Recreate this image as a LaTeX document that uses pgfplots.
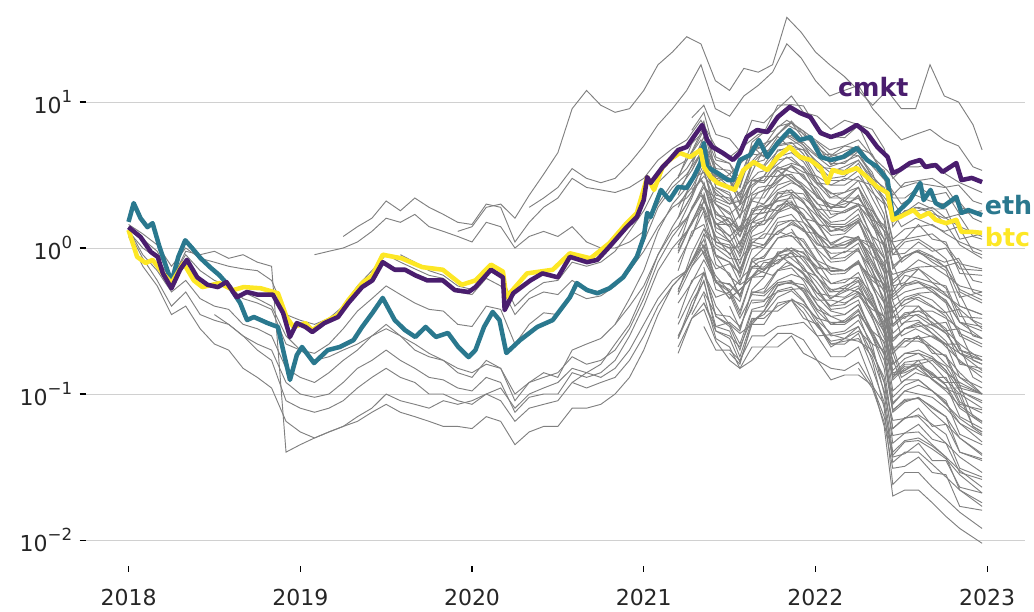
\documentclass[border=0pt]{standalone}
\usepackage{fontspec}
\setmainfont{DejaVu Sans}
\usepackage{pgfplots}
\usepackage{pgfplotstable}
\pgfplotsset{compat=1.18}
\definecolor{cmktc}{HTML}{4A1D6E}
\definecolor{ethc}{HTML}{2A788E}
\definecolor{btcc}{HTML}{FDE725}
\definecolor{gline}{HTML}{808080}
\definecolor{gridc}{HTML}{D0D0D0}
\newcommand\supx[1]{\raisebox{0.5em}{\fontsize{12.5}{13}\selectfont #1}}

\pgfplotstableread{
t e1 e2 e3 e4 e5 e6 e7 e8 e9 e10 e11 e12 e13 e14 e15
2018.000 1.3 1.35 1.4 1.3 1.45 1.2 nan nan nan nan nan nan nan nan nan
2018.083 1.0 0.9 1.15 0.85 1.25 0.75 nan nan nan nan nan nan nan nan nan
2018.167 0.85 0.7 0.95 0.6 1.05 0.55 nan nan nan nan nan nan nan nan nan
2018.250 0.6 0.5 0.62 0.4 0.75 0.35 nan nan nan nan nan nan nan nan nan
2018.333 0.95 0.6 0.9 0.5 1.0 0.4 nan nan nan nan nan nan nan nan nan
2018.417 0.9 0.45 0.7 0.35 0.85 0.28 nan nan nan nan nan nan nan nan nan
2018.500 0.95 0.4 0.6 0.32 0.8 0.22 nan nan nan nan nan nan nan nan 0.35
2018.583 0.85 0.38 0.55 0.3 0.75 0.2 nan nan nan nan nan nan nan nan 0.3
2018.667 0.9 0.3 0.45 0.25 0.72 0.15 nan nan nan nan 0.5 nan nan nan 0.25
2018.750 0.8 0.28 0.42 0.22 0.7 0.13 nan nan nan nan 0.45 nan nan nan 0.2
2018.833 0.75 0.25 0.38 0.2 0.6 0.11 nan nan nan nan 0.4 nan nan nan 0.17
2018.917 0.04 0.15 0.22 0.12 0.35 0.065 nan nan nan nan 0.25 nan nan nan 0.09
2019.000 0.045 0.13 0.2 0.1 0.32 0.055 nan nan nan nan 0.2 nan nan nan 0.08
2019.083 0.05 0.12 0.19 0.095 0.3 0.05 0.9 nan nan nan 0.17 nan nan nan 0.075
2019.167 0.055 0.14 0.22 0.1 0.33 0.055 0.95 nan nan nan 0.18 nan nan nan 0.08
2019.250 0.06 0.17 0.28 0.12 0.4 0.06 1.0 1.2 nan nan 0.2 nan nan nan 0.09
2019.333 0.07 0.2 0.37 0.15 0.55 0.065 1.1 1.4 nan nan 0.22 nan nan nan 0.11
2019.417 0.08 0.25 0.45 0.17 0.7 0.075 1.3 1.6 nan nan 0.25 nan nan nan 0.13
2019.500 0.1 0.28 0.55 0.2 0.9 0.085 1.6 2.1 nan nan 0.3 nan nan nan 0.15
2019.583 0.09 0.25 0.48 0.17 0.8 0.075 1.5 1.8 nan nan 0.25 nan nan 0.9 0.13
2019.667 0.085 0.2 0.42 0.15 0.72 0.07 1.7 2.2 nan nan 0.22 nan nan 0.8 0.12
2019.750 0.08 0.18 0.38 0.13 0.65 0.065 1.4 1.9 nan nan 0.19 nan nan 0.7 0.1
2019.833 0.09 0.17 0.37 0.125 0.62 0.06 1.3 1.7 nan nan 0.17 nan nan 0.65 0.1
2019.917 0.085 0.14 0.3 0.11 0.5 0.06 1.2 1.5 1.3 nan 0.15 nan nan 0.55 0.09
2020.000 0.09 0.13 0.29 0.105 0.48 0.058 1.1 1.45 1.4 nan 0.14 nan nan 0.52 0.085
2020.083 0.1 0.17 0.4 0.13 0.62 0.07 1.5 2.0 1.9 nan 0.16 nan nan 0.7 0.1
2020.167 0.11 0.15 0.38 0.12 0.55 0.065 1.4 1.9 2.0 nan 0.15 nan nan 0.65 0.09
2020.250 0.08 0.09 0.22 0.075 0.35 0.045 1.0 1.1 1.6 nan 0.1 nan nan 0.4 0.065
2020.333 0.1 0.12 0.3 0.095 0.45 0.055 1.2 1.5 2.3 1.9 0.12 nan nan 0.5 0.08
2020.417 0.11 0.14 0.36 0.1 0.5 0.06 1.3 1.9 3.2 2.2 0.13 nan nan 0.58 0.085
2020.500 0.12 0.13 0.35 0.1 0.48 0.06 1.2 2.2 4.5 2.6 0.14 nan nan 0.6 0.09
2020.583 0.15 0.2 0.5 0.14 0.6 0.08 1.4 3.0 9.0 3.5 0.18 0.12 nan 0.8 0.12
2020.667 0.14 0.22 0.45 0.13 0.52 0.08 1.1 2.6 12 3.0 0.16 0.14 nan 0.75 0.11
2020.750 0.13 0.24 0.47 0.14 0.5 0.085 1.0 2.5 9.5 2.8 0.17 0.16 nan 0.8 0.12
2020.833 0.15 0.3 0.55 0.17 0.55 0.1 1.0 2.4 8.5 3.0 0.2 0.22 0.3 0.95 0.13
2020.917 0.2 0.45 0.75 0.25 0.7 0.13 1.1 2.6 9.0 3.8 0.28 0.3 0.4 1.3 0.17
2021.000 0.3 0.7 1.1 0.4 0.95 0.2 1.3 3.0 12 5.0 0.45 0.5 0.55 1.8 0.25
2021.083 0.45 1.3 1.9 0.7 1.4 0.35 2.0 4.0 18 7.0 0.8 0.9 0.9 2.8 0.4
2021.167 0.6 2.0 2.6 1.0 1.9 0.55 2.8 4.8 22 9.0 1.2 1.4 1.3 3.5 0.55
2021.250 0.7 2.6 3.2 1.3 2.2 0.7 3.5 5.5 28 12 1.6 2.0 1.6 4.0 0.7
2021.333 1.0 3.8 4.5 2.0 2.9 1.1 5.0 7.5 25 18 2.4 3.0 2.3 5.5 1.0
2021.417 0.6 2.4 3.0 1.2 2.0 0.65 3.2 5.0 14 9 1.5 1.8 1.5 3.8 0.6
2021.500 0.45 2.0 2.5 0.9 1.7 0.5 2.6 4.2 12 8 1.2 1.4 1.1 3.2 0.45
2021.583 0.55 2.6 3.3 1.2 2.1 0.65 3.4 5.0 17 11 1.5 1.8 1.4 4.0 0.55
2021.667 0.7 3.3 4.2 1.5 2.6 0.8 4.4 6.0 16 13 1.9 2.4 1.7 5.0 0.7
2021.750 0.65 3.5 4.6 1.6 2.7 0.85 4.8 6.3 18 16 2.0 2.6 1.8 5.5 0.75
2021.833 0.8 4.2 5.8 2.0 3.2 1.0 6.0 7.5 38 25 2.5 3.2 2.1 7.0 0.9
2021.917 0.7 3.6 5.0 1.7 2.8 0.85 5.2 6.5 30 20 2.1 2.7 1.7 6.2 0.75
2022.000 0.55 2.8 4.0 1.3 2.3 0.65 4.3 5.5 22 14 1.7 2.1 1.3 5.0 0.6
2022.083 0.4 2.2 3.3 1.0 1.9 0.5 3.6 4.7 18 11 1.3 1.6 1.0 4.2 0.45
2022.167 0.45 2.4 3.6 1.1 2.0 0.55 3.9 5.0 15 12 1.4 1.8 1.05 4.6 0.5
2022.250 0.5 2.6 4.0 1.2 2.2 0.6 4.3 5.5 12 13 1.5 2.0 1.15 5.0 0.55
2022.333 0.35 1.8 2.8 0.8 1.6 0.4 3.1 4.2 9.5 9 1.0 1.4 0.75 3.6 0.35
2022.417 0.22 1.3 2.1 0.55 1.25 0.28 2.4 3.4 12 7 0.7 1.0 0.5 2.8 0.25
2022.500 0.12 0.8 1.4 0.3 0.85 0.14 1.7 2.6 9 5.5 0.4 0.55 0.25 2.0 0.13
2022.583 0.14 0.95 1.6 0.35 0.95 0.16 1.9 2.8 9 6.0 0.45 0.6 0.28 2.3 0.15
2022.667 0.13 0.85 1.45 0.3 0.88 0.14 1.75 2.7 18 6.5 0.4 0.55 0.25 2.1 0.13
2022.750 0.11 0.75 1.3 0.27 0.8 0.12 1.6 2.6 11 5.5 0.36 0.5 0.22 2.0 0.11
2022.833 0.1 0.8 1.4 0.28 0.85 0.12 1.7 2.7 10 5.0 0.38 0.5 0.22 2.1 0.11
2022.917 0.06 0.5 0.95 0.17 0.6 0.07 1.2 2.1 7 3.6 0.25 0.32 0.13 1.6 0.06
2022.970 0.055 0.47 0.9 0.16 0.58 0.065 1.15 2.0 4.7 3.4 0.24 0.3 0.12 1.5 0.055
}\early

\pgfplotstableread{
t h1 h2 h3 h4 h5 h6 h7 h8 h9 h10 m1 m2 m3 m4 m5 m6 m7 m8 m9 m10 m11 m12 m13 m14 l1 l2 l3 l4 l5 l6 l7 l8 l9 l10 l11 l12
2021.20 nan 3.0 nan 2.0 nan 0.95 nan 0.48 nan 0.21 nan 3.1 nan 1.9 nan 1.2 nan 0.8 nan 0.52 nan 0.3 nan 0.24 nan 2.3 nan 1.4 nan 0.92 nan nan nan nan nan 0.24
2021.28 7.8 5.2 3.4 2.6 nan 1.5 nan 0.75 nan 0.33 6.4 4.6 3.9 2.8 nan 1.85 nan 1.22 nan 0.8 nan 0.47 nan 0.43 5.2 3.7 nan 2.2 nan 1.5 nan 0.8 nan nan nan 0.39
2021.35 9.5 6.3 4.8 3.7 2.6 1.9 1.35 0.95 nan 0.42 8.5 6.8 5.3 4.2 3.4 2.75 2.2 1.8 nan 1.15 nan 0.68 nan 0.59 7.4 5.8 nan 3.5 2.85 2.3 1.7 1.25 nan 0.74 nan 0.6
2021.42 6.0 4.0 3.0 2.3 1.7 1.2 0.88 0.6 nan 0.27 4.2 3.4 2.6 2.1 1.7 1.38 1.1 0.9 nan 0.58 nan 0.34 nan 0.29 3.3 2.6 2.0 1.6 1.3 1.05 0.77 0.58 nan 0.34 nan 0.27
2021.50 5.6 3.8 2.9 2.2 1.6 1.1 0.8 0.56 nan 0.25 3.8 3.0 2.4 1.9 1.5 1.22 1.0 0.8 0.66 0.52 nan 0.3 nan 0.27 2.9 2.3 1.75 1.4 1.12 0.92 0.67 0.5 0.4 0.29 nan 0.24
2021.56 4.6 3.0 2.3 1.8 1.3 0.92 0.68 0.47 nan 0.21 2.6 2.2 1.65 1.3 1.05 0.87 0.7 0.57 0.47 0.37 nan 0.22 nan 0.18 2.0 1.6 1.2 0.95 0.78 0.63 0.46 0.35 0.28 0.2 nan 0.165
2021.63 7.5 5.0 3.8 2.9 2.1 1.5 1.1 0.75 0.5 0.33 4.6 3.8 2.9 2.3 1.85 1.5 1.2 0.98 0.8 0.63 0.49 0.38 nan 0.32 3.7 2.9 2.2 1.7 1.4 1.15 0.84 0.63 0.5 0.37 0.42 0.3
2021.70 7.2 4.8 3.6 2.8 2.0 1.45 1.05 0.74 0.49 0.33 5.0 4.0 3.1 2.5 2.0 1.62 1.3 1.05 0.88 0.7 0.53 0.4 nan 0.35 3.7 2.9 2.2 1.75 1.45 1.17 0.85 0.64 0.5 0.37 0.43 0.3
2021.78 9.0 6.0 4.6 3.5 2.5 1.8 1.3 0.9 0.6 0.4 6.8 5.5 4.2 3.4 2.7 2.2 1.75 1.42 1.17 0.92 0.71 0.55 nan 0.46 5.1 4.0 3.1 2.4 1.95 1.6 1.17 0.88 0.7 0.51 0.58 0.42
2021.86 11 7.2 5.0 3.8 2.8 2.0 1.45 1.0 0.66 0.44 7.2 5.9 4.5 3.6 2.9 2.35 1.9 1.55 1.28 1.0 0.77 0.59 0.45 0.51 5.3 4.2 3.2 2.5 2.05 1.7 1.22 0.92 0.73 0.54 0.6 0.44
2021.93 8.5 5.6 4.7 3.6 2.6 1.85 1.35 0.92 0.62 0.41 6.3 5.1 3.9 3.1 2.5 2.05 1.65 1.33 1.1 0.86 0.67 0.51 0.39 0.43 4.4 3.5 2.6 2.1 1.7 1.38 1.0 0.75 0.6 0.44 0.5 0.36
2022.01 8.0 5.3 3.6 2.8 2.0 1.45 1.05 0.74 0.49 0.33 4.5 3.7 2.8 2.3 1.85 1.5 1.2 0.98 0.8 0.63 0.49 0.37 0.29 0.32 3.0 2.4 1.8 1.45 1.15 0.95 0.7 0.52 0.41 0.3 0.35 0.25
2022.09 6.5 4.3 3.5 2.7 1.9 1.4 1.0 0.7 0.47 0.31 3.8 3.0 2.35 1.9 1.5 1.22 1.0 0.8 0.66 0.52 0.4 0.3 0.23 0.26 2.2 1.7 1.3 1.05 0.84 0.69 0.5 0.38 0.3 0.22 0.25 0.18
2022.17 7.5 5.0 3.4 2.7 2.1 1.4 1.0 0.7 0.46 0.31 3.8 3.1 2.4 1.9 1.55 1.25 1.0 0.82 0.67 0.53 0.41 0.32 0.24 0.27 2.2 1.75 1.35 1.05 0.86 0.7 0.51 0.39 0.3 0.22 0.26 0.18
2022.25 7.0 4.8 4.0 3.1 2.0 1.6 1.15 0.8 0.53 0.35 4.6 3.8 2.9 2.3 1.85 1.5 1.2 0.98 0.8 0.63 0.49 0.38 0.29 0.32 2.6 2.0 1.55 1.2 1.0 0.8 0.59 0.44 0.35 0.26 0.29 0.21
2022.33 6.5 4.4 3.0 2.4 1.8 1.2 0.88 0.6 0.4 0.27 3.0 2.5 1.9 1.5 1.2 1.0 0.8 0.65 0.54 0.42 0.33 0.25 0.19 0.22 1.5 1.15 0.88 0.7 0.57 0.46 0.34 0.25 0.2 0.15 0.17 0.12
2022.40 4.8 3.1 2.6 2.0 1.3 1.05 0.75 0.52 0.34 0.23 2.1 1.7 1.3 1.05 0.85 0.68 0.55 0.45 0.37 0.29 0.22 0.17 0.13 0.1 0.88 0.7 0.52 0.42 0.33 0.27 0.2 0.15 0.12 0.088 0.08 0.06
2022.45 3.0 2.2 1.5 1.15 0.9 0.6 0.44 0.3 0.2 0.13 0.9 0.75 0.57 0.46 0.36 0.3 0.24 0.19 0.16 0.125 0.095 0.075 0.058 0.04 0.33 0.26 0.2 0.16 0.13 0.105 0.077 0.058 0.046 0.034 0.024 0.02
2022.52 3.6 2.2 1.8 1.35 0.92 0.7 0.5 0.35 0.24 0.16 1.1 0.88 0.68 0.55 0.44 0.36 0.28 0.23 0.19 0.15 0.115 0.088 0.068 0.048 0.4 0.31 0.24 0.19 0.155 0.125 0.092 0.069 0.054 0.04 0.029 0.022
2022.60 3.6 2.6 1.8 1.4 1.1 0.74 0.53 0.37 0.24 0.16 1.15 0.95 0.72 0.58 0.46 0.37 0.3 0.25 0.2 0.16 0.125 0.095 0.072 0.05 0.4 0.32 0.24 0.19 0.155 0.125 0.093 0.07 0.055 0.04 0.029 0.022
2022.68 3.8 2.3 1.9 1.45 0.95 0.75 0.54 0.37 0.25 0.17 1.0 0.8 0.62 0.5 0.4 0.33 0.26 0.21 0.18 0.14 0.105 0.08 0.062 0.044 0.33 0.26 0.2 0.16 0.125 0.105 0.075 0.056 0.045 0.033 0.023 0.018
2022.76 3.2 2.4 1.6 1.25 1.0 0.65 0.47 0.33 0.22 0.14 0.84 0.7 0.53 0.42 0.34 0.28 0.22 0.18 0.145 0.115 0.09 0.07 0.053 0.037 0.27 0.21 0.16 0.125 0.105 0.085 0.062 0.046 0.037 0.027 0.019 0.0145
2022.84 2.8 1.7 1.4 1.1 0.72 0.55 0.4 0.28 0.19 0.12 0.5 0.4 0.31 0.25 0.2 0.16 0.13 0.105 0.088 0.07 0.053 0.04 0.031 0.022 0.22 0.17 0.13 0.1 0.083 0.068 0.05 0.037 0.03 0.022 0.0155 0.012
2022.97 2.4 1.8 1.2 0.95 0.7 0.5 0.35 0.24 0.16 0.1 0.42 0.35 0.27 0.21 0.17 0.15 0.11 0.09 0.074 0.058 0.045 0.035 0.027 0.018 0.17 0.13 0.1 0.08 0.065 0.053 0.038 0.029 0.023 0.017 0.012 0.0095
}\mass

\pgfplotstableread{
t p1 p2 p3 p4 p5 p6 p7 p8 q1 q2 q3 q4 q5 q6 q7 q8 r1 r2 r3 r4 r5 r6 r7 s1 s2 s3 s4 s5 s6 s7
2021.20 nan 1.6 nan 0.7 nan 0.33 nan 0.19 1.6 1.0 nan 0.5 nan 0.25 nan nan nan nan nan nan nan nan nan 2.5 nan 1.05 nan 0.42 nan nan
2021.28 4.5 3.0 nan 1.3 0.75 0.6 nan 0.33 2.3 1.9 1.2 0.92 nan 0.38 nan nan nan nan nan nan nan nan nan 3.4 2.5 1.45 nan 0.58 0.35 nan
2021.35 6.4 3.3 2.4 1.45 1.05 0.68 0.48 0.38 4.3 2.6 2.1 1.35 1.05 0.67 0.42 nan nan nan nan nan nan nan nan 5.0 3.1 2.1 1.25 0.83 0.5 0.29
2021.42 3.1 2.0 1.1 0.88 0.52 0.4 0.24 0.23 2.8 2.2 1.45 1.1 0.72 0.46 0.29 nan nan nan nan nan nan nan nan 3.5 2.5 1.45 1.0 0.58 0.35 0.2
2021.50 2.9 1.5 1.05 0.64 0.48 0.3 0.21 0.17 3.2 2.0 1.6 1.0 0.78 0.5 0.31 0.19 nan nan nan nan nan nan nan 3.4 2.1 1.45 0.85 0.57 0.34 0.2
2021.56 2.0 1.3 0.72 0.56 0.33 0.26 0.15 0.15 2.6 2.1 1.35 1.02 0.67 0.43 0.27 0.16 nan nan nan nan nan nan nan 2.9 2.1 1.2 0.83 0.48 0.29 0.17
2021.63 2.9 1.5 1.05 0.64 0.48 0.3 0.21 0.17 5.3 3.3 2.6 1.7 1.3 0.84 0.52 0.31 5.0 nan nan nan 0.82 nan nan 4.4 2.7 1.8 1.08 0.73 0.44 0.25
2021.70 2.8 1.9 1.0 0.8 0.47 0.37 0.21 0.21 6.2 4.8 3.1 2.4 1.55 1.0 0.63 0.37 4.2 nan 1.9 nan 0.7 nan nan 4.3 3.1 1.85 1.25 0.72 0.44 0.25
2021.78 3.6 1.8 1.3 0.78 0.58 0.37 0.26 0.21 9.5 6.0 4.7 3.0 2.35 1.5 0.94 0.56 5.8 3.4 2.1 nan 0.9 nan nan 5.0 3.1 2.1 1.24 0.83 0.5 0.29
2021.86 3.3 2.3 1.2 0.95 0.57 0.44 0.26 0.25 9.6 7.4 4.8 3.7 2.4 1.55 0.96 0.58 4.8 2.9 2.1 1.35 0.78 nan nan 5.2 3.7 2.2 1.5 0.87 0.52 0.3
2021.93 3.2 1.6 1.15 0.7 0.53 0.33 0.235 0.19 9.4 6.0 4.7 3.0 2.35 1.5 0.94 0.56 4.2 2.5 1.5 1.0 0.66 nan nan 5.3 3.3 2.2 1.3 0.88 0.53 0.31
2022.01 2.2 1.5 0.82 0.64 0.38 0.3 0.17 0.17 6.6 5.1 3.4 2.55 1.7 1.08 0.68 0.41 2.8 1.7 1.25 0.8 0.46 0.31 nan 4.3 3.1 1.85 1.25 0.72 0.44 0.25
2022.09 2.0 1.05 0.74 0.45 0.34 0.21 0.15 0.125 5.8 3.7 2.9 1.85 1.45 0.92 0.57 0.34 2.4 1.4 0.85 0.57 0.37 0.22 nan 4.4 2.7 1.8 1.08 0.73 0.44 0.255
2022.17 1.9 1.2 0.7 0.53 0.31 0.24 0.145 0.135 5.7 4.4 2.9 2.2 1.45 0.93 0.58 0.35 2.1 1.3 0.95 0.61 0.35 0.23 nan 4.1 3.0 1.75 1.2 0.7 0.42 0.24
2022.25 2.3 1.15 0.82 0.5 0.37 0.23 0.165 0.135 6.9 4.3 3.4 2.2 1.7 1.08 0.68 0.41 2.6 1.55 0.95 0.63 0.41 0.24 0.15 4.7 2.9 1.95 1.15 0.78 0.47 0.27
2022.33 1.5 1.0 0.56 0.42 0.25 0.2 0.115 0.115 4.3 3.3 2.2 1.65 1.05 0.7 0.44 0.26 1.7 1.0 0.72 0.48 0.27 0.18 0.11 3.8 2.7 1.55 1.08 0.63 0.38 0.22
2022.40 1.15 0.6 0.42 0.26 0.19 0.12 0.085 0.07 3.1 2.0 1.55 1.0 0.78 0.5 0.31 0.19 1.15 0.68 0.42 0.28 0.185 0.105 0.064 3.4 2.1 1.45 0.85 0.57 0.34 0.2
2022.45 0.5 0.34 0.19 0.14 0.085 0.066 0.038 0.037 1.4 1.1 0.72 0.55 0.36 0.23 0.145 0.087 0.48 0.29 0.21 0.135 0.078 0.052 0.031 2.3 1.65 0.97 0.66 0.39 0.23 0.135
2022.52 0.65 0.33 0.23 0.145 0.105 0.068 0.047 0.039 1.8 1.15 0.88 0.58 0.44 0.28 0.175 0.105 0.57 0.34 0.21 0.14 0.09 0.054 0.032 2.8 1.75 1.15 0.7 0.46 0.28 0.165
2022.60 0.62 0.4 0.23 0.17 0.1 0.08 0.048 0.046 1.9 1.45 0.97 0.72 0.48 0.31 0.19 0.115 0.58 0.35 0.25 0.155 0.094 0.062 0.037 2.9 2.05 1.2 0.83 0.49 0.29 0.17
2022.68 0.58 0.3 0.21 0.13 0.095 0.06 0.042 0.035 1.8 1.15 0.88 0.58 0.44 0.28 0.175 0.105 0.52 0.31 0.19 0.135 0.082 0.049 0.029 3.0 1.85 1.25 0.75 0.5 0.3 0.175
2022.76 0.48 0.31 0.18 0.13 0.08 0.062 0.036 0.035 1.45 1.1 0.73 0.55 0.36 0.23 0.145 0.087 0.43 0.26 0.185 0.115 0.07 0.046 0.028 2.6 1.85 1.05 0.75 0.44 0.26 0.155
2022.84 0.38 0.2 0.14 0.085 0.063 0.04 0.028 0.023 1.05 0.67 0.52 0.34 0.26 0.165 0.105 0.063 0.31 0.19 0.115 0.08 0.05 0.029 0.017 1.9 1.15 0.78 0.46 0.31 0.19 0.11
2022.97 0.28 0.18 0.1 0.078 0.047 0.036 0.021 0.021 0.85 0.65 0.44 0.33 0.22 0.14 0.087 0.052 0.24 0.145 0.1 0.063 0.039 0.026 0.016 1.7 1.25 0.72 0.5 0.29 0.17 0.1
}\massb

\begin{document}
\begin{tikzpicture}
\path[use as bounding box] (0,0) rectangle (775.5pt,458.25pt);
\begin{axis}[
  at={(64.2pt,33.75pt)}, anchor=south west,
  scale only axis, width=704.55pt, height=424.5pt,
  xmin=2017.75, xmax=2023.22,
  ymode=log, ymin=0.00664, ymax=49.96,
  axis line style={draw=none},
  xtick={2018,2019,2020,2021,2022,2023},
  xticklabels={2018,2019,2020,2021,2022,2023},
  ytick={0.01,0.1,1,10},
  yticklabels={10\supx{−2},10\supx{−1},10\supx{0},10\supx{1}},
  yminorticks=false,
  tick align=outside, tick pos=left,
  major tick length=4.5pt,
  tick style={black, line width=0.8pt},
  ymajorgrids, grid style={draw=gridc, line width=0.7pt},
  ticklabel style={font=\fontsize{16.5}{18}\selectfont, text=black!85},
  xticklabel style={yshift=-9pt},
  yticklabel style={xshift=-2pt},
  clip mode=individual,
]
\pgfplotsinvokeforeach{e1,e2,e3,e4,e5,e6,e7,e8,e9,e10,e11,e12,e13,e14,e15}{
  \addplot[gline, line width=0.7pt, forget plot] table[x=t,y=#1]{\early};
}
\pgfplotsinvokeforeach{h1,h2,h3,h4,h5,h6,h7,h8,h9,h10,m1,m2,m3,m4,m5,m6,m7,m8,m9,m10,m11,m12,m13,m14,l1,l2,l3,l4,l5,l6,l7,l8,l9,l10,l11,l12}{
  \addplot[gline, line width=0.7pt, forget plot] table[x=t,y=#1]{\mass};
}
\pgfplotsinvokeforeach{p1,p2,p3,p4,p5,p6,p7,p8,q1,q2,q3,q4,q5,q6,q7,q8,r1,r2,r3,r4,r5,r6,r7,s1,s2,s3,s4,s5,s6,s7}{
  \addplot[gline, line width=0.7pt, forget plot] table[x=t,y=#1]{\massb};
}
% eth
\addplot[ethc, line width=3.4pt, line join=round] coordinates {
(2018.00,1.51) (2018.03,2.03) (2018.07,1.60) (2018.11,1.39) (2018.14,1.48) (2018.18,1.02) (2018.22,0.74) (2018.25,0.585) (2018.29,0.87) (2018.33,1.13) (2018.37,1.00) (2018.42,0.85) (2018.48,0.73) (2018.53,0.65) (2018.59,0.54) (2018.65,0.42) (2018.69,0.321) (2018.73,0.337) (2018.81,0.306) (2018.87,0.288) (2018.90,0.20) (2018.94,0.125) (2018.98,0.185) (2019.01,0.21) (2019.08,0.163) (2019.16,0.20) (2019.23,0.21) (2019.31,0.234) (2019.36,0.288) (2019.42,0.359) (2019.48,0.455) (2019.55,0.321) (2019.61,0.274) (2019.67,0.246) (2019.73,0.288) (2019.79,0.246) (2019.86,0.262) (2019.92,0.21) (2019.98,0.179) (2020.02,0.20) (2020.07,0.288) (2020.12,0.365) (2020.16,0.321) (2020.20,0.191) (2020.28,0.234) (2020.38,0.288) (2020.47,0.321) (2020.57,0.46) (2020.61,0.575) (2020.67,0.515) (2020.73,0.49) (2020.80,0.53) (2020.88,0.63) (2020.96,0.87) (2021.00,1.19) (2021.02,1.74) (2021.04,1.63) (2021.10,2.50) (2021.15,2.13) (2021.20,2.62) (2021.25,2.58) (2021.29,3.06) (2021.33,3.82) (2021.35,5.24) (2021.37,3.59) (2021.43,3.26) (2021.49,2.92) (2021.52,2.92) (2021.56,4.01) (2021.62,4.34) (2021.67,5.49) (2021.72,4.20) (2021.78,5.24) (2021.85,6.43) (2021.91,5.49) (2021.97,5.76) (2022.03,4.20) (2022.09,4.01) (2022.16,4.20) (2022.24,4.84) (2022.30,4.01) (2022.36,3.59) (2022.42,2.92) (2022.45,1.63) (2022.49,1.82) (2022.55,2.13) (2022.61,2.79) (2022.63,2.13) (2022.67,2.50) (2022.70,2.03) (2022.74,1.91) (2022.82,2.24) (2022.85,1.74) (2022.89,1.82) (2022.97,1.68)
};
% btc
\addplot[btcc, line width=3.4pt, line join=round] coordinates {
(2018.00,1.33) (2018.05,0.87) (2018.10,0.79) (2018.14,0.83) (2018.20,0.67) (2018.25,0.575) (2018.32,0.79) (2018.38,0.60) (2018.43,0.54) (2018.53,0.575) (2018.61,0.515) (2018.67,0.54) (2018.77,0.53) (2018.87,0.49) (2018.92,0.337) (2018.96,0.288) (2019.03,0.306) (2019.07,0.274) (2019.14,0.311) (2019.22,0.348) (2019.28,0.44) (2019.36,0.575) (2019.42,0.65) (2019.48,0.90) (2019.59,0.85) (2019.71,0.74) (2019.83,0.71) (2019.94,0.56) (2020.02,0.60) (2020.11,0.77) (2020.18,0.69) (2020.20,0.46) (2020.32,0.67) (2020.47,0.71) (2020.57,0.92) (2020.69,0.85) (2020.80,1.08) (2020.90,1.48) (2020.96,1.74) (2021.02,3.06) (2021.06,2.50) (2021.11,3.59) (2021.15,4.01) (2021.21,4.48) (2021.27,4.20) (2021.33,4.69) (2021.35,3.59) (2021.39,3.06) (2021.43,2.79) (2021.49,2.62) (2021.53,2.50) (2021.58,3.42) (2021.64,3.88) (2021.72,3.42) (2021.78,4.20) (2021.85,4.92) (2021.91,4.20) (2021.97,4.01) (2022.03,3.53) (2022.07,2.79) (2022.10,3.42) (2022.16,3.26) (2022.24,3.53) (2022.30,3.06) (2022.36,2.62) (2022.42,2.38) (2022.45,1.56) (2022.49,1.63) (2022.57,1.82) (2022.61,1.63) (2022.66,1.74) (2022.70,1.56) (2022.76,1.48) (2022.82,1.56) (2022.85,1.29) (2022.91,1.29) (2022.97,1.27)
};
% cmkt
\addplot[cmktc, line width=3.4pt, line join=round] coordinates {
(2018.00,1.39) (2018.07,1.19) (2018.13,0.94) (2018.17,0.87) (2018.20,0.67) (2018.25,0.53) (2018.30,0.71) (2018.34,0.83) (2018.40,0.63) (2018.46,0.56) (2018.52,0.54) (2018.57,0.585) (2018.63,0.46) (2018.69,0.50) (2018.75,0.48) (2018.84,0.48) (2018.90,0.359) (2018.94,0.246) (2018.98,0.306) (2019.03,0.288) (2019.07,0.266) (2019.14,0.306) (2019.22,0.337) (2019.28,0.42) (2019.36,0.54) (2019.42,0.60) (2019.48,0.80) (2019.55,0.71) (2019.61,0.71) (2019.67,0.65) (2019.74,0.60) (2019.83,0.60) (2019.90,0.515) (2019.98,0.50) (2020.02,0.54) (2020.11,0.71) (2020.18,0.63) (2020.19,0.376) (2020.24,0.49) (2020.34,0.60) (2020.41,0.67) (2020.50,0.63) (2020.57,0.87) (2020.67,0.80) (2020.73,0.83) (2020.80,1.02) (2020.90,1.39) (2020.96,1.63) (2021.00,2.13) (2021.02,3.06) (2021.04,2.79) (2021.11,3.59) (2021.15,4.01) (2021.20,4.69) (2021.25,4.92) (2021.29,5.76) (2021.34,6.96) (2021.37,5.49) (2021.40,4.92) (2021.46,4.48) (2021.52,4.01) (2021.56,4.48) (2021.60,5.76) (2021.66,6.43) (2021.72,6.23) (2021.78,7.89) (2021.85,9.25) (2021.91,8.41) (2021.97,7.89) (2022.03,6.13) (2022.09,5.76) (2022.16,6.13) (2022.24,6.96) (2022.30,6.13) (2022.36,4.92) (2022.42,4.20) (2022.45,3.26) (2022.49,3.42) (2022.55,3.82) (2022.61,4.01) (2022.64,3.59) (2022.70,3.70) (2022.74,3.32) (2022.82,3.82) (2022.85,2.92) (2022.91,3.02) (2022.97,2.83)
};
\node[anchor=west, inner sep=0pt, font=\bfseries\fontsize{19}{21}\selectfont, text=cmktc] at (axis cs:2022.13,12.7) {cmkt};
\node[anchor=west, inner sep=0pt, font=\bfseries\fontsize{19}{21}\selectfont, text=ethc] at (axis cs:2022.985,1.97) {eth};
\node[anchor=west, inner sep=0pt, font=\bfseries\fontsize{19}{21}\selectfont, text=btcc] at (axis cs:2022.985,1.19) {btc};
\end{axis}
\end{tikzpicture}
\end{document}
